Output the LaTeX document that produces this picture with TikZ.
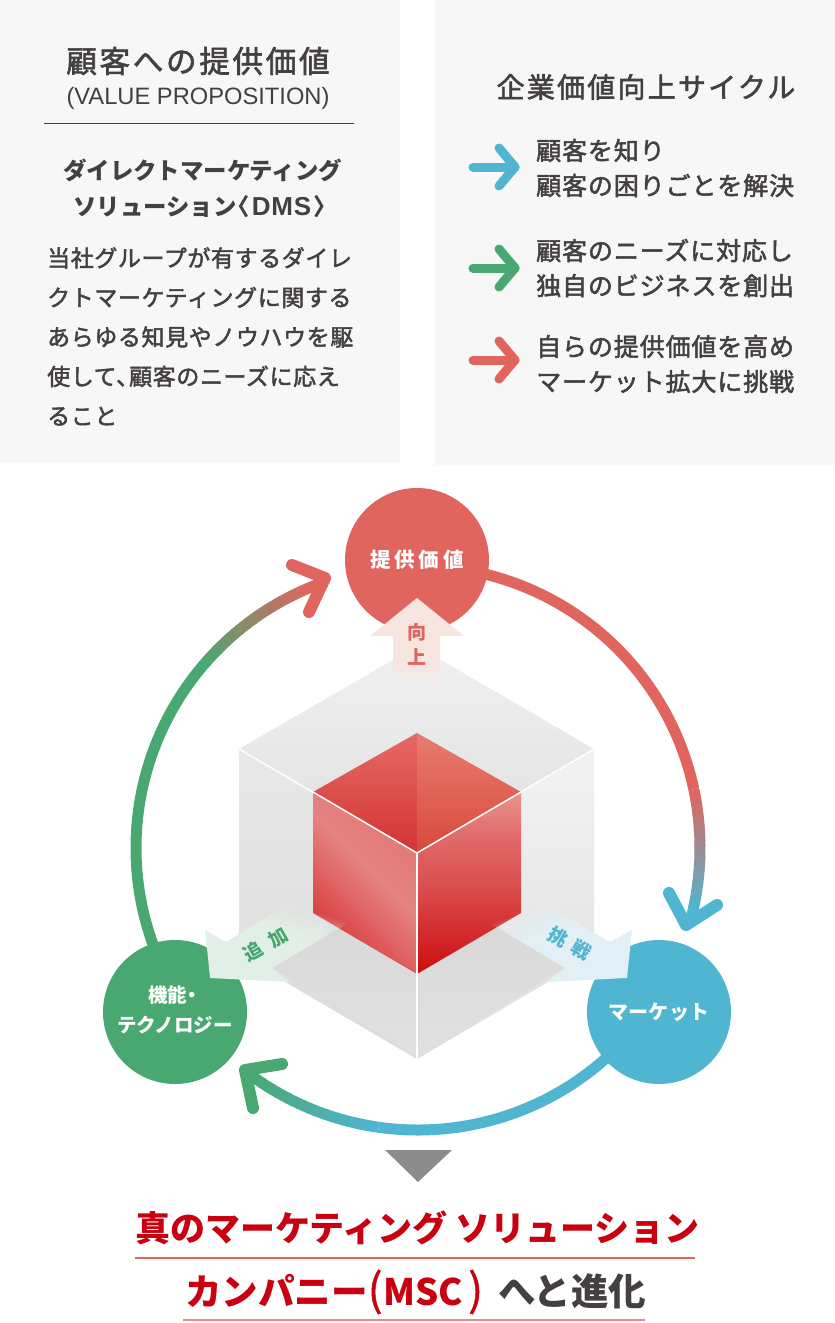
\documentclass[tikz,border=0pt]{standalone}
\usepackage{fontspec}
\usetikzlibrary{fadings}
\setmainfont{Noto Sans CJK JP}
\newfontfamily\latinfont{Liberation Sans}
\definecolor{textgrey}{HTML}{444040}
\definecolor{panelgrey}{HTML}{F7F7F7}
\definecolor{cyclered}{HTML}{E0655E}
\definecolor{cycleblue}{HTML}{50B5D1}
\definecolor{cyclegreen}{HTML}{49A871}
\definecolor{deepred}{HTML}{C80010}
\definecolor{armred}{HTML}{F9E5E0}
\definecolor{armblue}{HTML}{E2F0F6}
\definecolor{armgreen}{HTML}{E2EFE6}
\definecolor{topa}{HTML}{E46A66}
\definecolor{topb}{HTML}{D43333}
\definecolor{topc}{HTML}{E87C70}
\definecolor{topd}{HTML}{D9483C}
\definecolor{rra}{HTML}{CB0E0E}
\definecolor{rrb}{HTML}{DC5050}
\definecolor{rrc}{HTML}{E06868}
\definecolor{rrd}{HTML}{E99490}
\definecolor{rla}{HTML}{D43434}
\definecolor{rlb}{HTML}{DD5555}
\definecolor{rlc}{HTML}{E68282}
\definecolor{rld}{HTML}{E37676}
\pgfdeclareverticalshading{frontright}{100bp}{color(0bp)=(rra); color(25bp)=(rra); color(50bp)=(rrb); color(62bp)=(rrc); color(75bp)=(rrd); color(100bp)=(rrd)}
\pgfdeclareverticalshading{frontleft}{100bp}{color(0bp)=(rla); color(25bp)=(rla); color(37bp)=(rlb); color(54bp)=(rlc); color(75bp)=(rld); color(100bp)=(rld)}
\pgfdeclareverticalshading{sidefadeshade}{100bp}{color(0bp)=(pgftransparent!100); color(30bp)=(pgftransparent!100); color(45bp)=(pgftransparent!0); color(100bp)=(pgftransparent!0)}
\pgfdeclarefading{sidefade}{\pgfuseshading{sidefadeshade}}
\pgfdeclareverticalshading{upfadeshade}{100bp}{color(0bp)=(pgftransparent!100); color(25bp)=(pgftransparent!100); color(39bp)=(pgftransparent!0); color(100bp)=(pgftransparent!0)}
\pgfdeclarefading{upfade}{\pgfuseshading{upfadeshade}}
\newcommand{\jpsize}[4]{\fontsize{#1}{#2}\selectfont\addfontfeature{LetterSpace=#3,FakeBold=#4}}
% ring pieces run clockwise, angles from east
\newcommand{\ringfade}[4]{
  \foreach \i in {0,...,23} {
    \pgfmathsetmacro{\pa}{#1+(#2-#1)*\i/24}
    \pgfmathsetmacro{\pb}{#1+(#2-#1)*(\i+1.2)/24}
    \pgfmathsetmacro{\mixp}{100*(1-\i/23)}
    \draw[ringline,color=#3!\mixp!#4] (ringc) ++(\pa:282) arc[start angle=\pa,end angle=\pb,radius=282];
  }
}
\tikzset{
  ringline/.style={line width=11pt,line cap=butt},
  tipline/.style={line width=12pt,line cap=round,line join=round},
  miniarrow/.style={line width=9pt,line cap=round,line join=round},
  bubble/.style={circle,minimum size=144pt,inner sep=0pt,text=white,align=center},
  cyclelines/.style={anchor=west,align=left,text=textgrey,inner sep=0pt,font=\jpsize{25}{35}{3.5}{2}},
  bodytext/.style={anchor=north west,align=left,text=textgrey,inner sep=0pt,font=\jpsize{23}{39.5}{2.6}{2}},
  subhead/.style={anchor=west,text=textgrey,inner sep=0pt,font=\bfseries\jpsize{23.4}{37}{0}{0}},
  hugeline/.style={anchor=west,inner sep=0pt,text=deepred},
  armlabel/.style={inner sep=0pt,font=\bfseries\jpsize{19}{20}{20}{0}},
}
\begin{document}
\begin{tikzpicture}[x=1pt,y=-1pt]
  \useasboundingbox (0,0) rectangle (835,1323);
  % panels
  \fill[panelgrey] (0,0) rectangle (400,463);
  \fill[panelgrey] (435,0) rectangle (835,465);
  \node[text=textgrey,inner sep=0pt,font=\jpsize{30.5}{36}{9}{2}] (valuetitle) at (198,61) {顧客への提供価値};
  \node[text=textgrey,inner sep=0pt,font=\latinfont\fontsize{23.7}{26}\selectfont] (valueeng) at (198,98) {(VALUE PROPOSITION)};
  \draw[textgrey,line width=1pt] (44,123) -- (354,123);
  \node[subhead] (dmsone) at (63,170) {ダイレクトマーケティング};
  \node[subhead] (dmstwo) at (73,207) {ソリューション\hspace{-10pt}〈\hspace{2pt}{\latinfont\bfseries\fontsize{26}{30}\selectfont\addfontfeature{LetterSpace=3}DMS}\hspace{2pt}〉};
  \node[bodytext] (dmsbody) at (47,247) {当社グループが有するダイレ\\クトマーケティングに関する\\あらゆる知見やノウハウを駆\\使して、\hspace{-10pt}顧客のニーズに応え\\ること};
  \node[text=textgrey,inner sep=0pt,font=\jpsize{28}{34}{8}{2}] (cycletitle) at (646,87) {企業価値向上サイクル};
  \node[cyclelines] (cycleone) at (536,168) {顧客を知り\\顧客の困りごとを解決};
  \node[cyclelines] (cycletwo) at (536,268) {顧客のニーズに対応し\\独自のビジネスを創出};
  \node[cyclelines] (cyclethree) at (536,364) {自らの提供価値を高め\\マーケット拡大に挑戦};
  \foreach \y/\col/\n in {167/cycleblue/a,268/cyclegreen/b,360/cyclered/c} {
    \coordinate (tail\n) at (473,\y);
    \coordinate (head\n) at (515,\y);
    \draw[miniarrow,\col] (tail\n) -- (head\n);
    \draw[miniarrow,\col] (499,\y-19) -- (head\n) -- (499,\y+19);
  }
  % ring
  \coordinate (ringc) at (418,848);
  \draw[ringline,cyclered] (ringc) ++(-76:282) arc[start angle=-76,end angle=-12,radius=282];
  \ringfade{-12}{13}{cyclered}{cycleblue}
  \draw[ringline,cycleblue] (ringc) ++(13:282) arc[start angle=13,end angle=16,radius=282];
  \draw[ringline,cycleblue] (ringc) ++(45:282) arc[start angle=45,end angle=98,radius=282];
  \ringfade{98}{127}{cycleblue}{cyclegreen}
  \draw[ringline,cyclegreen] (ringc) ++(127:282) arc[start angle=127,end angle=128,radius=282];
  \draw[ringline,cyclegreen] (ringc) ++(155:282) arc[start angle=155,end angle=220,radius=282];
  \ringfade{220}{248}{cyclegreen}{cyclered}
  \draw[ringline,cyclered] (ringc) ++(248:282) arc[start angle=248,end angle=251,radius=282];
  \draw[tipline,cyclered] (292,565) -- (325,578) -- (309,612);
  \draw[tipline,cycleblue] (669,893) -- (686,925) -- (717,905);
  \draw[tipline,cyclegreen] (282,1064) -- (245,1070) -- (253,1108);
  % circles
  \node[bubble,fill=cyclered,font=\bfseries\jpsize{20.5}{30}{19}{0}] (valuenode) at (417,560) {提供価値};
  \node[bubble,fill=cycleblue,font=\bfseries\jpsize{20}{30}{2}{0}] (marketnode) at (659,1012) {マーケット};
  \node[bubble,fill=cyclegreen] (technode) at (175,1012) {};
  \node[text=white,align=center,inner sep=0pt,font=\bfseries\jpsize{19.5}{30}{0}{0}] (techlabel) at (175,1009.5) {機能\hspace{-5pt}・\hspace{-5pt}\\テクノロジー};
  % hexagon
  \shade[top color=black!6,bottom color=black!12] (417,646) -- (594,749) -- (417,853) -- (239,749) -- cycle;
  \shade[top color=black!9,bottom color=black!14] (239,749) -- (417,853) -- (417,1059) -- (239,955) -- cycle;
  \shade[top color=black!5,bottom color=black!13] (594,749) -- (417,853) -- (417,1059) -- (594,955) -- cycle;
  \shade[top color=black!15,bottom color=black!12] (272,968) -- (338,927) -- (496,927) -- (565,968) -- (417,1057) -- cycle;
  \draw[white,line width=1.5pt] (239,749) -- (417,853) -- (594,749);
  \draw[white,line width=1.5pt] (417,853) -- (417,1059);
  % red cube
  \shade[shading angle=-40,top color=topa,bottom color=topb] (417,733) -- (417,853) -- (313,792) -- cycle;
  \shade[top color=topc,bottom color=topd] (417,733) -- (417,853) -- (521,792) -- cycle;
  \shade[shading=frontleft,shading angle=-45] (313,792) -- (417,853) -- (417,974) -- (313,913) -- cycle;
  \shade[shading=frontright] (521,792) -- (417,853) -- (417,974) -- (521,913) -- cycle;
  \draw[white,line width=1.5pt] (313,792) -- (417,853) -- (521,792);
  \draw[white,line width=1.5pt] (417,853) -- (417,974);
  % arms
  \fill[armred,path fading=upfade] (417,598) -- (464,636) -- (440,636) -- (440,685) -- (393,685) -- (393,636) -- (370,636) -- cycle;
  \fill[armgreen,path fading=sidefade,fading angle=150] (205,930) -- (226,942) -- (303,895) -- (350,922) -- (272,968) -- (290,982) -- (210,978) -- cycle;
  \fill[armblue,path fading=sidefade,fading angle=-150] (632,930) -- (610,942) -- (530,895) -- (488,922) -- (565,968) -- (547,982) -- (627,978) -- cycle;
  \node[armlabel,text=cyclered] (armup) at (417,632) {向};
  \node[armlabel,text=cyclered] (armuptwo) at (417,657) {上};
  \node[armlabel,text=cyclegreen,rotate=30] (armleft) at (265.5,944) {追\hspace{9pt}加};
  \node[armlabel,text=cycleblue,rotate=-30] (armright) at (570,943.5) {挑\hspace{8pt}戦};
  % result
  \fill[black!45] (385,1150) -- (452,1150) -- (418,1182) -- cycle;
  \node[hugeline,font=\bfseries\jpsize{35}{40}{0}{0}] (resultone) at (135,1228) {真のマーケティング ソリューション};
  \draw[cyclered,line width=1.8pt] (135,1258) -- (695,1258);
  \node[hugeline,font=\bfseries\jpsize{36.5}{40}{0}{0}] (resulttwo) at (185,1292) {カンパニー{\mdseries\jpsize{44}{44}{0}{1}(}\hspace{1pt}MSC\hspace{5pt}{\mdseries\jpsize{44}{44}{0}{1})}\hspace{15pt}\textcolor{textgrey}{\jpsize{37.5}{40}{0}{0}へと進化}};
  \draw[cyclered!75,line width=2.5pt] (183,1320) -- (645,1320);
\end{tikzpicture}
\end{document}
